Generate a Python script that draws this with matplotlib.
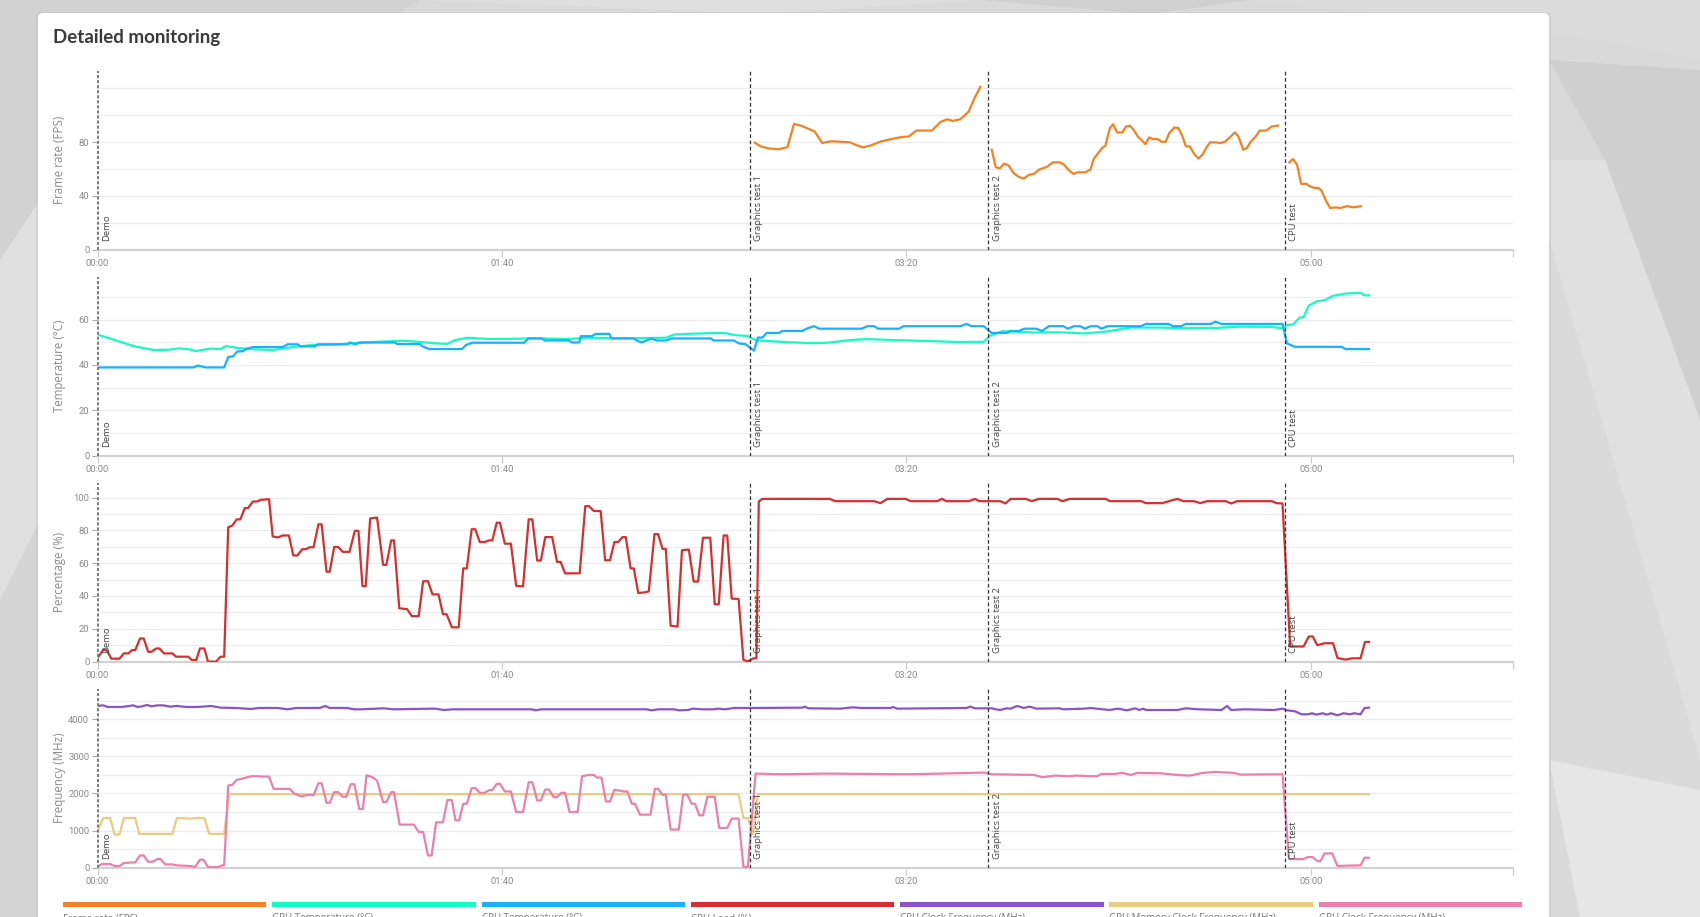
import numpy as np
import matplotlib
matplotlib.use("Agg")
import matplotlib.pyplot as plt
from matplotlib.patches import Polygon, FancyBboxPatch, Rectangle
from matplotlib.ticker import FixedLocator

# ---------------- data ----------------
EVENTS = [(0.0, "Demo"), (161.3, "Graphics test 1"), (220.2, "Graphics test 2"), (293.5, "CPU test")]
X_TICKS = [0, 100, 200, 300, 350]
X_TICK_LABELS = ["00:00", "01:40", "03:20", "05:00", ""]

FPS_GT1 = [(162.5, 79.5), (164.0, 76.8), (165.9, 75.3), (168.4, 74.6), (169.7, 75.6), (170.6, 76.3),
           (172.2, 93.6), (174.1, 92.1), (177.3, 87.9), (179.2, 79.3), (181.1, 80.5), (182.3, 80.5),
           (186.1, 79.8), (187.4, 78.0), (189.3, 76.0), (191.2, 77.5), (193.7, 80.5), (196.2, 82.2),
           (198.7, 83.7), (200.6, 84.2), (202.5, 88.6), (206.3, 88.6), (208.5, 95.1), (210.1, 97.0),
           (211.4, 95.8), (213.3, 97.0), (215.4, 102.7), (216.7, 111.9), (218.3, 121.2)]
FPS_GT2 = [(221.1, 74.3), (222.1, 61.2), (223.1, 60.5), (224.2, 64.0), (225.3, 62.5), (226.5, 57.0),
           (227.8, 54.1), (229.0, 52.8), (230.3, 55.6), (231.6, 56.5), (232.8, 59.5), (234.7, 61.5),
           (236.2, 64.9), (237.9, 64.9), (239.0, 63.2), (240.0, 59.5), (241.3, 56.3), (242.3, 57.5),
           (244.2, 57.5), (245.5, 59.5), (246.3, 67.4), (247.3, 71.4), (248.4, 75.6), (249.2, 77.3),
           (250.3, 90.4), (251.1, 93.3), (252.1, 87.2), (253.4, 87.2), (254.3, 91.6), (255.3, 92.1),
           (256.2, 89.1), (257.2, 84.2), (258.1, 81.7), (259.1, 78.5), (260.0, 83.5), (261.0, 82.2),
           (262.2, 82.2), (263.1, 80.2), (264.1, 80.2), (265.0, 86.7), (266.3, 90.9), (267.3, 90.4),
           (268.2, 84.7), (269.1, 76.8), (270.1, 76.8), (271.1, 71.4), (272.2, 67.7), (273.2, 70.6),
           (274.2, 76.0), (275.1, 79.8), (276.4, 79.8), (277.7, 79.3), (278.9, 80.5), (280.2, 84.2),
           (281.2, 87.2), (282.1, 84.2), (283.3, 74.3), (284.2, 75.6), (285.2, 80.5), (286.2, 83.5),
           (287.4, 88.6), (289.0, 88.6), (290.3, 91.6), (291.9, 92.3)]
FPS_CPU = [(294.7, 64.9), (295.6, 67.4), (296.6, 63.2), (297.6, 48.9), (298.9, 48.9), (299.7, 47.2),
           (300.8, 45.9), (301.9, 45.9), (302.7, 43.5), (303.8, 36.0), (304.8, 30.9), (306.1, 31.4),
           (307.3, 30.9), (309.0, 32.3), (310.5, 31.4), (312.4, 32.3)]

GPU_TEMP = [(0, 53.4), (3.9, 51.2), (8.9, 48.3), (13.8, 46.6), (17.5, 46.7), (20.0, 47.3), (22.4, 47.0),
            (24.3, 46.1), (26.1, 46.7), (27.9, 47.2), (30.4, 47.0), (31.7, 48.3), (34.7, 47.5),
            (38.4, 46.9), (43.3, 46.6), (48.3, 47.9), (53.2, 48.8), (59.4, 49.1), (65.5, 49.9),
            (71.7, 50.4), (75.4, 50.7), (80.3, 50.1), (83.4, 49.5), (86.5, 49.3), (88.3, 50.9),
            (91.4, 52.0), (96.3, 51.5), (102.5, 51.5), (108.6, 51.8), (116.0, 51.4), (121.0, 52.0),
            (127.1, 51.8), (133.3, 51.8), (140.6, 52.0), (142.5, 53.4), (145.6, 53.7), (149.3, 53.9),
            (153.0, 54.1), (155.4, 54.0), (157.9, 53.1), (160.7, 52.8), (162.8, 50.9), (169.1, 50.2),
            (176.4, 49.6), (180.5, 49.8), (185.7, 50.9), (189.9, 51.4), (195.1, 51.1), (200.3, 50.8),
            (206.6, 50.5), (212.8, 50.1), (219.1, 50.2), (220.6, 52.8), (223.7, 54.9), (231.6, 54.3),
            (237.8, 54.4), (244.1, 53.9), (249.3, 54.7), (255.5, 56.5), (261.8, 56.5), (269.1, 56.2),
            (276.4, 56.3), (282.6, 56.9), (289.9, 56.8), (293.0, 56.2), (294.1, 57.6), (295.6, 57.9),
            (297.2, 60.8), (298.2, 61.1), (299.5, 66.2), (301.4, 68.0), (303.4, 68.6), (305.5, 70.5),
            (308.6, 71.5), (312.3, 71.8), (313.3, 70.7), (314.4, 70.7)]

CPU_TEMP = [(0, 38.9), (23.6, 38.9), (24.9, 39.7), (26.7, 38.9), (31.3, 38.9), (32.3, 43.5), (33.5, 43.8),
            (34.5, 45.9), (36.0, 46.1), (36.9, 47.2), (38.4, 47.9), (45.8, 47.9), (47.0, 49.1),
            (49.5, 49.1), (50.1, 48.2), (53.8, 48.2), (54.4, 49.1), (61.8, 49.1), (62.4, 49.9),
            (63.7, 49.1), (64.9, 49.9), (73.5, 49.9), (74.1, 49.2), (79.7, 49.2), (80.3, 48.2),
            (82.1, 47.0), (90.1, 47.0), (91.1, 48.8), (92.6, 49.8), (105.5, 49.8), (106.5, 51.7),
            (109.9, 51.7), (110.5, 50.8), (116.6, 50.8), (117.2, 49.9), (119.1, 49.9), (119.5, 52.7),
            (122.2, 52.7), (123.2, 53.7), (126.5, 53.7), (127.1, 51.7), (132.6, 51.7), (133.3, 50.8),
            (134.5, 49.9), (135.7, 50.8), (137.0, 51.7), (138.2, 50.8), (140.6, 50.8), (141.9, 51.7),
            (151.7, 51.7), (152.3, 50.8), (157.3, 50.8), (158.6, 49.5), (160.2, 49.2), (162.3, 46.3),
            (163.3, 52.1), (164.4, 52.1), (165.4, 54.1), (168.5, 54.1), (169.3, 55.0), (174.3, 55.0),
            (175.3, 56.0), (177.2, 57.1), (178.4, 56.0), (188.9, 56.0), (190.4, 57.1), (192.0, 57.1),
            (193.0, 56.0), (198.2, 56.0), (199.3, 57.1), (213.3, 57.1), (214.9, 58.1), (216.1, 57.1),
            (219.1, 57.1), (221.1, 54.1), (224.8, 54.1), (225.8, 55.0), (227.8, 55.0), (229.2, 56.0),
            (232.0, 56.0), (233.6, 55.0), (235.2, 57.1), (238.8, 57.1), (239.9, 56.0), (241.5, 57.1),
            (243.0, 57.1), (244.1, 56.0), (245.6, 57.1), (247.2, 57.1), (248.2, 56.0), (249.8, 57.1),
            (258.1, 57.1), (259.2, 58.1), (264.9, 58.1), (265.9, 57.1), (268.0, 57.1), (269.1, 58.1),
            (275.3, 58.1), (276.4, 59.1), (277.9, 58.1), (293.0, 58.1), (294.1, 49.5), (296.1, 48.0),
            (307.6, 48.0), (308.6, 47.0), (314.4, 47.0)]

CPU_LOAD = [(0, 2.2), (1.4, 7.2), (2.3, 6.8), (3.4, 1.8), (5.4, 1.8), (6.5, 5.0), (7.6, 5.0), (8.5, 7.0),
            (9.3, 7.0), (10.5, 14.1), (11.4, 14.1), (12.5, 6.0), (13.3, 6.0), (14.5, 8.0), (15.3, 8.0),
            (16.4, 5.0), (18.5, 5.0), (19.4, 3.0), (22.4, 3.0), (23.3, 1.0), (24.4, 1.0), (25.3, 8.0),
            (26.4, 8.0), (27.3, 0), (29.3, 0), (30.4, 3.0), (31.3, 3.0), (32.3, 81.9), (33.3, 82.9),
            (34.4, 86.7), (35.3, 86.7), (36.4, 93.6), (37.2, 93.6), (38.4, 97.6), (39.5, 97.6),
            (40.3, 98.6), (42.4, 99.0), (43.3, 76.3), (44.6, 75.7), (45.8, 76.9), (47.3, 76.9),
            (48.4, 64.7), (49.4, 64.7), (50.6, 68.5), (51.5, 68.5), (52.4, 69.7), (53.4, 69.7),
            (54.6, 83.7), (55.4, 83.7), (56.6, 54.8), (57.4, 54.8), (58.5, 69.9), (59.5, 69.9),
            (60.6, 66.9), (62.3, 66.9), (63.6, 79.7), (64.5, 79.7), (65.5, 46.0), (66.3, 46.0),
            (67.4, 87.3), (69.1, 87.8), (70.6, 59.0), (71.4, 59.0), (72.6, 73.9), (73.3, 73.9),
            (74.6, 32.5), (76.0, 32.1), (76.5, 32.1), (77.7, 27.7), (79.4, 27.7), (80.5, 49.0),
            (81.7, 49.0), (82.8, 41.0), (84.3, 41.0), (85.4, 28.9), (86.3, 28.9), (87.6, 20.9),
            (89.3, 20.9), (90.4, 56.8), (91.3, 56.8), (92.5, 80.7), (93.4, 80.7), (94.5, 72.9),
            (95.7, 72.9), (96.8, 73.9), (97.6, 73.9), (98.7, 84.7), (99.5, 84.7), (100.7, 71.9),
            (102.2, 71.9), (103.5, 46.2), (105.2, 45.8), (106.6, 86.7), (107.5, 86.7), (108.7, 61.6),
            (109.6, 61.6), (110.7, 75.9), (112.4, 75.9), (113.6, 60.8), (114.5, 60.8), (115.6, 53.8),
            (119.2, 53.8), (120.6, 94.8), (121.5, 94.8), (122.7, 91.8), (124.4, 91.8), (125.5, 61.8),
            (126.7, 61.8), (127.8, 72.9), (128.7, 72.9), (129.8, 75.9), (130.6, 75.9), (131.8, 56.8),
            (132.6, 56.8), (133.7, 41.8), (135.2, 42.2), (136.3, 42.8), (137.7, 77.7), (138.6, 77.7),
            (139.7, 68.7), (140.5, 68.7), (141.7, 21.9), (143.4, 21.3), (144.5, 67.9), (146.2, 68.3),
            (147.4, 48.8), (148.5, 48.8), (149.7, 75.5), (151.5, 75.5), (152.6, 34.9), (153.6, 34.9),
            (154.8, 76.9), (155.7, 76.9), (156.8, 38.4), (158.5, 38.2), (159.7, 1.0), (160.8, 0.2),
            (162.2, 2.0), (162.9, 2.0), (163.5, 97.6), (164.4, 99.2), (181.0, 99.2), (182.4, 97.8),
            (192.0, 97.8), (193.6, 96.6), (195.3, 99.2), (199.8, 99.2), (201.1, 97.8), (207.6, 97.8),
            (208.8, 99.2), (209.9, 97.8), (215.4, 97.8), (217.0, 99.2), (218.0, 97.8), (223.2, 97.8),
            (224.5, 96.4), (225.8, 99.2), (229.5, 99.2), (231.0, 97.8), (232.8, 99.2), (237.3, 99.2),
            (238.6, 97.8), (240.4, 99.2), (249.3, 99.2), (250.3, 97.8), (258.1, 97.8), (259.2, 96.6),
            (263.3, 96.6), (264.9, 97.8), (267.0, 99.2), (268.5, 97.8), (271.1, 97.8), (272.7, 96.6),
            (274.3, 97.8), (279.0, 97.8), (280.3, 96.4), (281.8, 97.8), (290.4, 97.8), (291.5, 96.6),
            (293.0, 96.4), (294.9, 9.2), (298.2, 9.2), (299.5, 15.3), (300.5, 15.3), (301.6, 10.0),
            (303.4, 11.2), (305.5, 11.2), (306.6, 2.2), (308.6, 1.2), (310.2, 2.0), (312.3, 2.0),
            (313.4, 12.0), (314.4, 12.0)]

CPU_CLOCK = [(0, 4358), (1.4, 4375), (2.5, 4331), (5.9, 4331), (7.3, 4349), (8.8, 4375), (9.9, 4331),
             (11.0, 4349), (12.2, 4385), (13.3, 4349), (14.8, 4375), (16.2, 4375), (17.9, 4340),
             (19.6, 4358), (21.9, 4331), (24.7, 4331), (28.1, 4358), (30.4, 4313), (34.4, 4304),
             (37.8, 4277), (40.1, 4304), (44.6, 4304), (46.9, 4268), (49.2, 4304), (54.9, 4304),
             (56.3, 4358), (57.4, 4304), (61.7, 4304), (63.4, 4268), (65.1, 4268), (70.8, 4295),
             (73.1, 4268), (83.4, 4286), (85.6, 4250), (87.9, 4268), (107.3, 4268), (108.4, 4241),
             (109.6, 4268), (135.8, 4268), (136.9, 4241), (138.6, 4268), (142.6, 4268), (143.7, 4241),
             (146.0, 4250), (147.2, 4286), (149.4, 4268), (152.3, 4268), (153.4, 4286), (155.1, 4268),
             (157.4, 4304), (163.1, 4304), (174.3, 4313), (174.8, 4340), (175.8, 4295), (183.6, 4286),
             (186.8, 4322), (188.9, 4304), (196.1, 4304), (196.7, 4331), (197.7, 4286), (214.9, 4304),
             (215.7, 4340), (217.0, 4295), (221.1, 4295), (222.2, 4268), (223.2, 4250), (224.8, 4295),
             (225.8, 4286), (227.4, 4358), (229.0, 4304), (230.5, 4340), (232.1, 4286), (237.8, 4295),
             (238.9, 4268), (244.1, 4286), (245.6, 4304), (247.7, 4277), (250.3, 4250), (252.4, 4286),
             (254.5, 4241), (256.6, 4295), (257.6, 4250), (258.6, 4286), (259.2, 4250), (267.0, 4250),
             (269.1, 4295), (272.2, 4268), (277.9, 4250), (279.3, 4358), (280.3, 4250), (283.6, 4268),
             (290.9, 4250), (293.0, 4286), (294.1, 4241), (296.1, 4215), (297.7, 4134), (299.3, 4134),
             (300.3, 4161), (301.4, 4125), (302.9, 4161), (304.0, 4125), (305.0, 4161), (306.6, 4107),
             (308.1, 4161), (309.7, 4134), (310.7, 4161), (312.3, 4134), (313.3, 4304), (314.4, 4313)]

GPU_MEM_CLOCK = [(0, 1000), (1.4, 1340), (3.1, 1340), (4.2, 893), (5.4, 893), (6.5, 1340), (9.3, 1340),
                 (10.3, 911), (18.5, 911), (19.6, 1340), (23.0, 1322), (24.7, 1340), (26.4, 1340),
                 (27.6, 911), (31.3, 911), (32.5, 1982), (158.5, 1982), (159.7, 1340), (160.8, 1340),
                 (162.1, 900), (163.3, 1982), (314.4, 1982)]

GPU_CLOCK = [(0, 36), (1.1, 98), (3.1, 98), (4.2, 45), (5.4, 45), (6.5, 125), (8.8, 143), (9.3, 143),
             (10.5, 330), (11.4, 330), (12.5, 161), (13.6, 161), (14.8, 232), (15.6, 232), (16.7, 89),
             (18.5, 89), (19.6, 62), (23.0, 45), (24.1, 18), (25.3, 214), (26.2, 214), (27.3, 18),
             (29.8, 18), (30.8, 62), (31.3, 62), (32.3, 2215), (33.3, 2233), (34.4, 2366), (35.5, 2393),
             (36.7, 2429), (38.0, 2465), (39.5, 2465), (40.7, 2456), (42.4, 2456), (43.5, 2125),
             (47.5, 2125), (48.6, 2000), (50.3, 1920), (51.7, 1956), (53.4, 1956), (54.6, 2277),
             (55.4, 2277), (56.6, 1750), (57.4, 1750), (58.5, 2036), (59.5, 2036), (60.6, 1911),
             (61.5, 1911), (62.6, 2250), (63.5, 2250), (64.7, 1581), (65.6, 1581), (66.5, 2491),
             (68.0, 2438), (69.1, 2349), (70.6, 1768), (71.4, 1768), (72.6, 2036), (73.3, 2036),
             (74.7, 1161), (78.2, 1161), (79.4, 964), (80.5, 964), (81.7, 330), (82.6, 330),
             (83.7, 1223), (85.4, 1223), (86.5, 1822), (87.6, 1822), (88.5, 1277), (89.4, 1277),
             (90.4, 1723), (91.3, 1723), (92.5, 2143), (93.4, 2143), (94.5, 2018), (95.7, 2018),
             (96.8, 2090), (97.6, 2090), (98.7, 2259), (99.5, 2259), (100.7, 2054), (102.2, 2054),
             (103.5, 1500), (105.2, 1500), (106.6, 2304), (107.5, 2304), (108.7, 1813), (109.6, 1813),
             (110.7, 2107), (111.6, 2107), (112.8, 1902), (113.6, 1902), (114.7, 2018), (115.6, 2018),
             (116.7, 1500), (118.7, 1500), (119.8, 2465), (121.5, 2500), (122.7, 2500), (123.5, 2429),
             (124.6, 2429), (125.7, 1786), (126.7, 1786), (127.8, 2098), (128.9, 2081), (130.1, 2054),
             (131.0, 2054), (132.1, 1723), (132.9, 1723), (134.1, 1429), (136.7, 1429), (137.8, 2125),
             (138.6, 2125), (139.7, 1965), (140.5, 1965), (141.7, 1027), (143.7, 1027), (144.8, 1965),
             (145.8, 1965), (146.9, 1723), (147.7, 1723), (148.8, 1411), (149.7, 1411), (150.8, 1911),
             (152.6, 1911), (153.7, 1072), (155.7, 1072), (156.8, 1322), (158.5, 1322), (159.7, 27),
             (160.8, 18), (162.7, 2536), (169.4, 2518), (179.9, 2536), (190.3, 2527), (200.3, 2518),
             (208.6, 2536), (219.1, 2563), (221.1, 2518), (231.6, 2500), (233.6, 2438), (236.8, 2482),
             (239.9, 2465), (242.0, 2482), (245.1, 2465), (247.2, 2465), (248.2, 2527), (251.4, 2527),
             (253.4, 2554), (255.5, 2500), (257.1, 2554), (262.8, 2545), (267.0, 2500), (270.1, 2482),
             (273.2, 2554), (276.4, 2581), (281.0, 2554), (282.6, 2509), (293.0, 2518), (294.6, 232),
             (298.2, 232), (299.3, 286), (300.5, 286), (301.6, 179), (302.4, 179), (303.4, 384),
             (305.3, 384), (306.6, 45), (308.6, 54), (312.3, 62), (313.3, 268), (314.4, 268)]

SERIES_NAMES = ["Frame rate (FPS)", "GPU Temperature (°C)", "CPU Temperature (°C)", "CPU Load (%)",
                "CPU Clock Frequency (MHz)", "GPU Memory Clock Frequency (MHz)", "GPU Clock Frequency (MHz)"]
SERIES_COLORS = ["#f58220", "#17fac4", "#17b2ff", "#d3302f", "#8d52c9", "#ebcb80", "#ec80a8"]

# ---------------- figure ----------------
W, H = 1700, 917
fig = plt.figure(figsize=(W / 100, H / 100), dpi=100)

bg = fig.add_axes([0, 0, 1, 1], zorder=-10)
bg.set_xlim(0, W)
bg.set_ylim(H, 0)
bg.axis("off")
bg.add_patch(Rectangle((0, 0), W, H, fc="#d9d9d9", ec="none"))
decor = [
    ([(0, 0), (420, 0), (0, 260)], "#d2d2d2"),
    ([(0, 260), (40, 200), (40, 520), (0, 600)], "#e0e0e0"),
    ([(0, 600), (40, 520), (40, 917), (0, 917)], "#d4d4d4"),
    ([(420, 0), (980, 0), (760, 14)], "#dedede"),
    ([(980, 0), (1250, 0), (1150, 14)], "#d0d0d0"),
    ([(1250, 0), (1700, 0), (1700, 60), (1600, 40)], "#dbdbdb"),
    ([(1549, 60), (1700, 70), (1700, 420), (1605, 160)], "#cfcfcf"),
    ([(1549, 160), (1605, 160), (1700, 420), (1700, 760), (1549, 240)], "#e0e0e0"),
    ([(1549, 240), (1700, 760), (1700, 917), (1549, 917)], "#dadada"),
    ([(1549, 760), (1700, 790), (1700, 917), (1580, 917)], "#e6e6e6"),
]
for pts, c in decor:
    bg.add_patch(Polygon(pts, closed=True, fc=c, ec="none"))
# card + shadow
bg.add_patch(FancyBboxPatch((36, 12), 1515, 960, boxstyle="round,pad=0,rounding_size=5",
                            fc="#bdbdbd", ec="none", alpha=0.35))
bg.add_patch(FancyBboxPatch((38, 13), 1511, 960, boxstyle="round,pad=0,rounding_size=5",
                            fc="white", ec="none"))
bg.text(53, 37.5, "Detailed monitoring", fontsize=13.5, fontweight="bold", color="#3a3a3a",
        va="center", ha="left", family=["Lato", "DejaVu Sans"])

# legend bars
for i, (name, col) in enumerate(zip(SERIES_NAMES, SERIES_COLORS)):
    x0 = 63 + i * 209.3
    bg.add_patch(Rectangle((x0, 901.5), 203.5, 5.5, fc=col, ec="none"))
    bg.text(x0, 913.5, name, fontsize=7, color="#777777", va="top", ha="left",
            family=["Open Sans", "DejaVu Sans"])

# panels
left_px, right_px = 97.6, 1513.0
panel_tops = [70.5, 276.6, 482.6, 688.7]
panel_h = 179.0

panels = [
    dict(series=[(FPS_GT1, 0), (FPS_GT2, 0), (FPS_CPU, 0)], ylabel="Frame rate (FPS)",
         major=[0, 40, 80], minor=[20, 60, 100, 120]),
    dict(series=[(GPU_TEMP, 1), (CPU_TEMP, 2)], ylabel="Temperature (°C)",
         major=[0, 20, 40, 60], minor=[10, 30, 50, 70]),
    dict(series=[(CPU_LOAD, 3)], ylabel="Percentage (%)",
         major=[0, 20, 40, 60, 80, 100], minor=[10, 30, 50, 70, 90]),
    dict(series=[(CPU_CLOCK, 4), (GPU_MEM_CLOCK, 5), (GPU_CLOCK, 6)], ylabel="Frequency (MHz)",
         major=[0, 1000, 2000, 3000, 4000], minor=[500, 1500, 2500, 3500, 4500]),
]

tick_font = ["Roboto", "DejaVu Sans"]
for p, top in zip(panels, panel_tops):
    ax = fig.add_axes([left_px / W, 1 - (top + panel_h) / H, (right_px - left_px) / W, panel_h / H])
    ax.set_facecolor("none")
    ymax = 0
    for data, ci in p["series"]:
        t, v = zip(*data)
        ax.plot(t, v, color=SERIES_COLORS[ci], lw=1.6, solid_joinstyle="round", zorder=3)
        ymax = max(ymax, max(v))
    ax.set_xlim(0, 350)
    ax.set_ylim(0, ymax * 1.1)

    for s in ["top", "right", "left"]:
        ax.spines[s].set_visible(False)
    ax.spines["bottom"].set_color("#d2d2d2")
    ax.spines["bottom"].set_linewidth(1.6)

    ax.yaxis.set_major_locator(FixedLocator(p["major"]))
    ax.yaxis.set_minor_locator(FixedLocator(p["minor"]))
    ax.yaxis.grid(True, which="both", color="#ececec", lw=0.9, zorder=0)
    ax.set_axisbelow(True)
    ax.tick_params(axis="y", which="major", length=4, width=0.8, color="#aaaaaa",
                   labelsize=6.8, labelcolor="#8a8a8a", pad=2)
    ax.tick_params(axis="y", which="minor", length=0)
    for lab in ax.get_yticklabels():
        lab.set_family(tick_font)

    ax.set_xticks(X_TICKS)
    ax.set_xticklabels(X_TICK_LABELS)
    ax.tick_params(axis="x", length=5, width=0.8, color="#c8c8c8", labelsize=6.8,
                   labelcolor="#8a8a8a", pad=2)
    for lab in ax.get_xticklabels():
        lab.set_family(tick_font)

    ax.set_ylabel(p["ylabel"], fontsize=8.3, color="#8a8a8a", family=["Open Sans", "DejaVu Sans"])
    ax.yaxis.set_label_coords(-31.5 / (right_px - left_px), 0.5)

    for et, name in EVENTS:
        if et == 0:
            ax.axvline(et, color="#7a7a7a", lw=1.4, ls=(0, (1.6, 1.0)), zorder=4, clip_on=False)
        else:
            ax.axvline(et, color="#333333", lw=0.9, ls=(0, (3.0, 2.0)), zorder=4)
        ax.annotate(name, xy=(et, 0), xycoords=("data", "axes fraction"), xytext=(3.2, 6),
                    textcoords="offset points", rotation=90, ha="left", va="bottom",
                    fontsize=6.8, color="#444444", family=["Open Sans", "DejaVu Sans"], zorder=5)

fig.savefig("out.png", dpi=100)
